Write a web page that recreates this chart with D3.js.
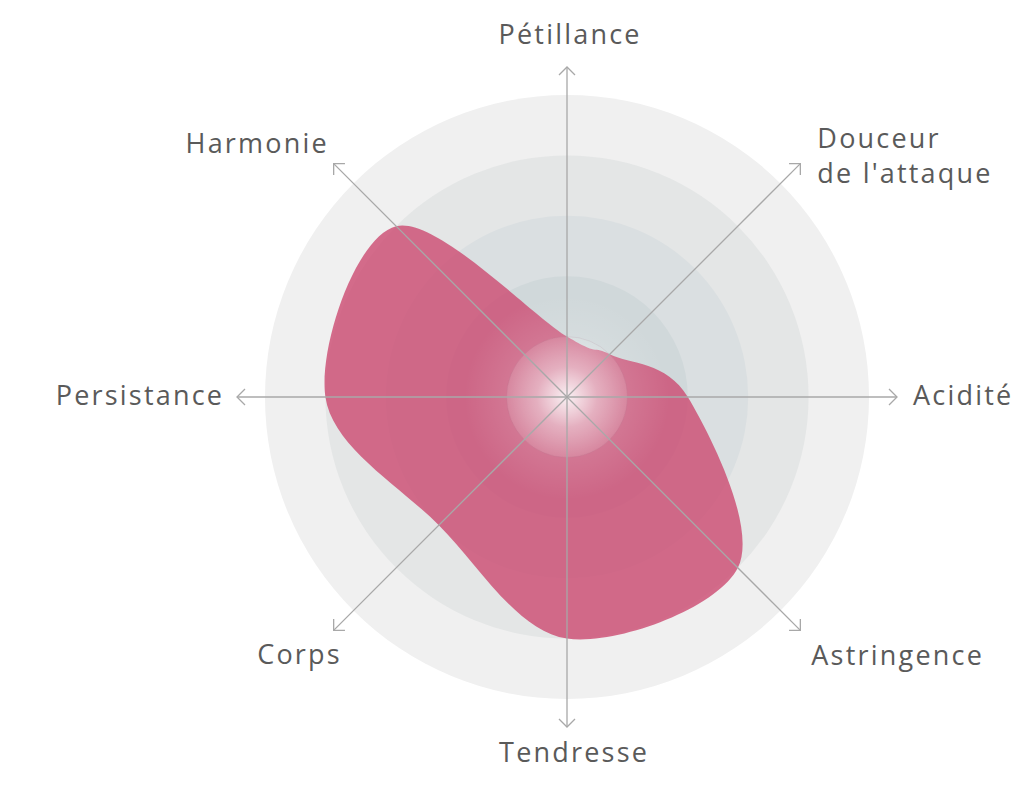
<!DOCTYPE html>
<html><head><meta charset="utf-8">
<script src="https://cdn.jsdelivr.net/npm/d3@7"></script>
<style>html,body{margin:0;padding:0;background:#fff;}svg{display:block;}</style>
</head><body>
<svg id="chart" width="1024" height="789"></svg>
<script>
const axes = ["Pétillance", "Douceur de l'attaque", "Acidité", "Astringence", "Tendresse", "Corps", "Persistance", "Harmonie"];
const axisLabelLines = [["Pétillance"], ["Douceur", "de l'attaque"], ["Acidité"], ["Astringence"], ["Tendresse"], ["Corps"], ["Persistance"], ["Harmonie"]];
const values = [1, 1, 2, 4, 4, 3, 4, 4];
const levels = [5, 4, 3, 2, 1];
const levelColors = ["#f0f0f0", "#e4e6e6", "#dadfe1", "#d0d8da", "#cdd6d8"];

const svg = d3.select("#chart");
const cx = 567, cy = 397;
const r = d3.scaleLinear().domain([0, 5]).range([0, 302]);
const axisLen = 330;
const ang = d3.scaleLinear().domain([0, axes.length]).range([0, 2 * Math.PI]);
const g = svg.append("g").attr("transform", `translate(${cx},${cy})`);
const defs = svg.append("defs");

// level circles
g.selectAll("circle.level").data(levels).join("circle")
  .attr("class", "level").attr("r", d => r(d))
  .attr("fill", (d, i) => levelColors[i]);

// shape
const line = d3.lineRadial().angle((d, i) => ang(i)).radius(d => r(d)).curve(d3.curveCardinalClosed);
g.append("path").datum(values).attr("d", line)
  .attr("fill", "#cc4a70").attr("fill-opacity", 0.8);

// center glow
const glow = defs.append("radialGradient").attr("id", "glow");
glow.append("stop").attr("offset", "0%").attr("stop-color", "#fff").attr("stop-opacity", 0.3);
glow.append("stop").attr("offset", "55%").attr("stop-color", "#fff").attr("stop-opacity", 0.12);
glow.append("stop").attr("offset", "100%").attr("stop-color", "#fff").attr("stop-opacity", 0);
g.append("circle").attr("r", r(1.7)).attr("fill", "url(#glow)");
const core = defs.append("radialGradient").attr("id", "core");
core.append("stop").attr("offset", "0%").attr("stop-color", "#fff").attr("stop-opacity", 0.85);
core.append("stop").attr("offset", "50%").attr("stop-color", "#fff").attr("stop-opacity", 0.35);
core.append("stop").attr("offset", "100%").attr("stop-color", "#fff").attr("stop-opacity", 0.12);
g.append("circle").attr("r", r(1)).attr("fill", "url(#core)")
  .attr("stroke", "#a06078").attr("stroke-opacity", 0.12).attr("stroke-width", 1);

// axes with arrowheads
const ax = g.selectAll("g.axis").data(axes).join("g").attr("class", "axis")
  .attr("transform", (d, i) => `rotate(${ang(i) * 180 / Math.PI})`);
ax.append("line").attr("x1", 0).attr("y1", 0).attr("x2", 0).attr("y2", -axisLen)
  .attr("stroke", "#a8a8a8").attr("stroke-width", 1.3);
ax.append("path").attr("d", `M-8,${-axisLen + 8}L0,${-axisLen}L8,${-axisLen + 8}`)
  .attr("fill", "none").attr("stroke", "#a8a8a8").attr("stroke-width", 1.3);

// labels: offsets from arrow tip [dx, dy, anchor]
const fs = 27, ls = 2.2;
const labelOffsets = [
  [2 + ls / 2, -23, "middle"],
  [17, -16, "start"],
  [16, 8, "start"],
  [11, 35, "start"],
  [6 + ls / 2, 35, "middle"],
  [6 + ls, 34, "end"],
  [-15 + ls, 8, "end"],
  [-7 + ls, -11, "end"]
];
axes.forEach((name, i) => {
  const a = ang(i);
  const tx = Math.sin(a) * axisLen, ty = -Math.cos(a) * axisLen;
  const [dx, dy, anchor] = labelOffsets[i];
  const t = g.append("text").attr("text-anchor", anchor)
    .attr("font-family", "'Open Sans', sans-serif").attr("font-size", fs)
    .attr("letter-spacing", ls).attr("fill", "#5a5a5a");
  axisLabelLines[i].forEach((l, k) => {
    t.append("tspan").attr("x", tx + dx).attr("y", ty + dy + k * 35).text(l);
  });
});
</script>
</body></html>
